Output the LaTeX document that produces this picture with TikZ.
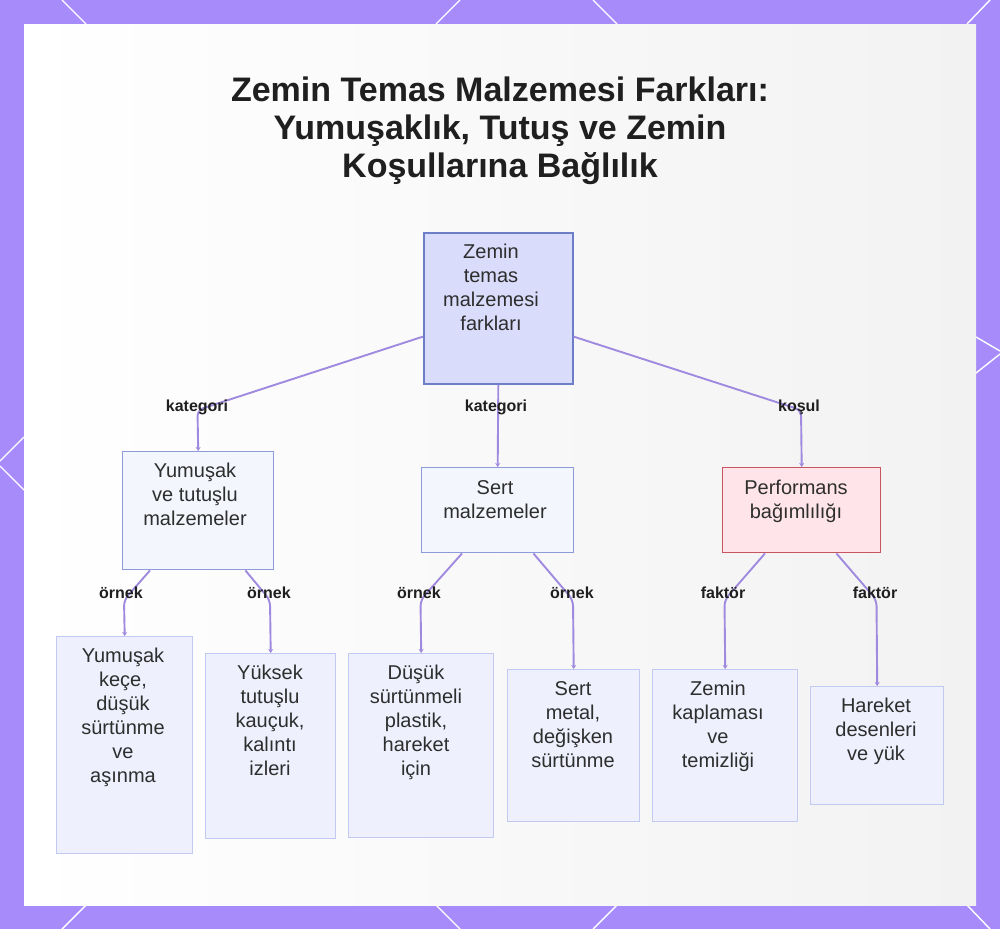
\documentclass[tikz,border=0pt]{standalone}
\usepackage{fontspec}
\setmainfont{Liberation Sans}
\usetikzlibrary{arrows.meta,calc}
\definecolor{framecol}{HTML}{A78BFA}
\definecolor{panelgray}{HTML}{F2F2F2}
\definecolor{edgecol}{HTML}{A08AE0}
\definecolor{txt}{HTML}{2E2E2E}
\definecolor{titlecol}{HTML}{1F1F1F}
\definecolor{rootfill}{HTML}{D9DCFA}
\definecolor{rootdraw}{HTML}{6E7DC8}
\definecolor{midfill}{HTML}{F4F6FE}
\definecolor{middraw}{HTML}{8D9BDB}
\definecolor{leaffill}{HTML}{EEF1FD}
\definecolor{leafdraw}{HTML}{C2CAF1}
\definecolor{perffill}{HTML}{FFE5EA}
\definecolor{perfdraw}{HTML}{C8545E}
\tikzset{
  boxbase/.style={rectangle, inner sep=0pt, anchor=north west},
  rootbox/.style={boxbase, fill=rootfill, draw=rootdraw, line width=1.6pt},
  midbox/.style={boxbase, fill=midfill, draw=middraw, line width=1.4pt},
  perfbox/.style={boxbase, fill=perffill, draw=perfdraw, line width=1.4pt},
  leafbox/.style={boxbase, fill=leaffill, draw=leafdraw, line width=1.4pt},
  boxtext/.style={font=\fontsize{20}{24}\selectfont, text=txt, align=center, inner sep=0pt, anchor=north},
  lbl/.style={font=\fontsize{16}{19}\selectfont\bfseries, text=titlecol, inner sep=1pt},
  edge/.style={draw=edgecol, line width=1.9pt, rounded corners=6pt, -{Stealth[length=4pt,width=5pt]}},
  deco/.style={draw=white, line width=1.4pt}
}
\begin{document}
\begin{tikzpicture}[x=1pt,y=-1pt]
\useasboundingbox (0,0) rectangle (1000,929);
% frame and panel
\fill[framecol] (0,0) rectangle (1000,929);
\draw[deco] (62,0) -- (86,24);
\draw[deco] (460,0) -- (436,24);
\draw[deco] (593,0) -- (617,24);
\draw[deco] (990,0) -- (967,24);
\draw[deco] (86,905) -- (62,929);
\draw[deco] (436,905) -- (460,929);
\draw[deco] (617,905) -- (593,929);
\draw[deco] (967,905) -- (990,929);
\draw[deco] (24,437) -- (0,461);
\draw[deco] (0,466) -- (24,490);
\draw[deco] (976,337) -- (1000,351);
\draw[deco] (1000,354) -- (976,373);
\shade[left color=white, right color=panelgray] (24,24) rectangle (976,905);

% title
\node[font=\fontsize{34}{38}\selectfont\bfseries, text=titlecol, align=center, inner sep=0pt, anchor=north] (title) at (500,77)
  {Zemin Temas Malzemesi Farkları:\\Yumuşaklık, Tutuş ve Zemin\\Koşullarına Bağlılık};

% boxes
\node[rootbox, minimum width=149pt, minimum height=151pt] (root) at (423,232) {};
\node[midbox, minimum width=151pt, minimum height=118pt] (yum) at (122,451) {};
\node[midbox, minimum width=152pt, minimum height=85pt] (sert) at (421,467) {};
\node[perfbox, minimum width=158pt, minimum height=85pt] (perf) at (722,467) {};
\node[leafbox, minimum width=136pt, minimum height=217pt] (l1) at (56,636) {};
\node[leafbox, minimum width=130pt, minimum height=185pt] (l2) at (205,653) {};
\node[leafbox, minimum width=145pt, minimum height=184pt] (l3) at (348,653) {};
\node[leafbox, minimum width=132pt, minimum height=152pt] (l4) at (507,669) {};
\node[leafbox, minimum width=145pt, minimum height=152pt] (l5) at (652,669) {};
\node[leafbox, minimum width=133pt, minimum height=118pt] (l6) at (810,686) {};

% box texts
\node[boxtext] (troot) at (491,244) {Zemin\\temas\\malzemesi\\farkları};
\node[boxtext] (tyum) at (195,463) {Yumuşak\\ve tutuşlu\\malzemeler};
\node[boxtext] (tsert) at (495,480) {Sert\\malzemeler};
\node[boxtext] (tperf) at (796,480) {Performans\\bağımlılığı};
\node[boxtext] (tl1) at (123,648) {Yumuşak\\keçe,\\düşük\\sürtünme\\ve\\aşınma};
\node[boxtext] (tl2) at (270,665) {Yüksek\\tutuşlu\\kauçuk,\\kalıntı\\izleri};
\node[boxtext] (tl3) at (416,665) {Düşük\\sürtünmeli\\plastik,\\hareket\\için};
\node[boxtext] (tl4) at (573,681) {Sert\\metal,\\değişken\\sürtünme};
\node[boxtext] (tl5) at (718,681) {Zemin\\kaplaması\\ve\\temizliği};
\node[boxtext] (tl6) at (876,698) {Hareket\\desenleri\\ve yük};

% bend points
\coordinate (b1) at (197.5,410);
\coordinate (b2) at (801,410);
\coordinate (c1) at (124,600);
\coordinate (c2) at (270,600);
\coordinate (c3) at (420.5,600);
\coordinate (c4) at (573,600);
\coordinate (c5) at (724.5,600);
\coordinate (c6) at (876.5,600);

% edges
\draw[edge] ([yshift=48pt]root.south west) -- (b1) -- (yum.north);
\draw[edge] (root.south) -- (sert.north);
\draw[edge] ([yshift=48pt]root.south east) -- (b2) -- (perf.north);
\draw[edge] ([xshift=28pt]yum.south west) -- (c1) -- (l1.north);
\draw[edge] ([xshift=-29pt]yum.south east) -- (c2) -- (l2.north);
\draw[edge] ([xshift=41pt]sert.south west) -- (c3) -- (l3.north);
\draw[edge] ([xshift=-41pt]sert.south east) -- (c4) -- (l4.north);
\draw[edge] ([xshift=43pt]perf.south west) -- (c5) -- (l5.north);
\draw[edge] ([xshift=-45pt]perf.south east) -- (c6) -- (l6.north);

% edge labels
\node[lbl] (k1) at (197,407) {kategori};
\node[lbl] (k2) at (496,407) {kategori};
\node[lbl] (k3) at (799,407) {koşul};
\node[lbl] (o1) at (121,593) {örnek};
\node[lbl] (o2) at (269,593) {örnek};
\node[lbl] (o3) at (419,593) {örnek};
\node[lbl] (o4) at (572,593) {örnek};
\node[lbl] (f1) at (723,593) {faktör};
\node[lbl] (f2) at (875,593) {faktör};
\end{tikzpicture}
\end{document}
